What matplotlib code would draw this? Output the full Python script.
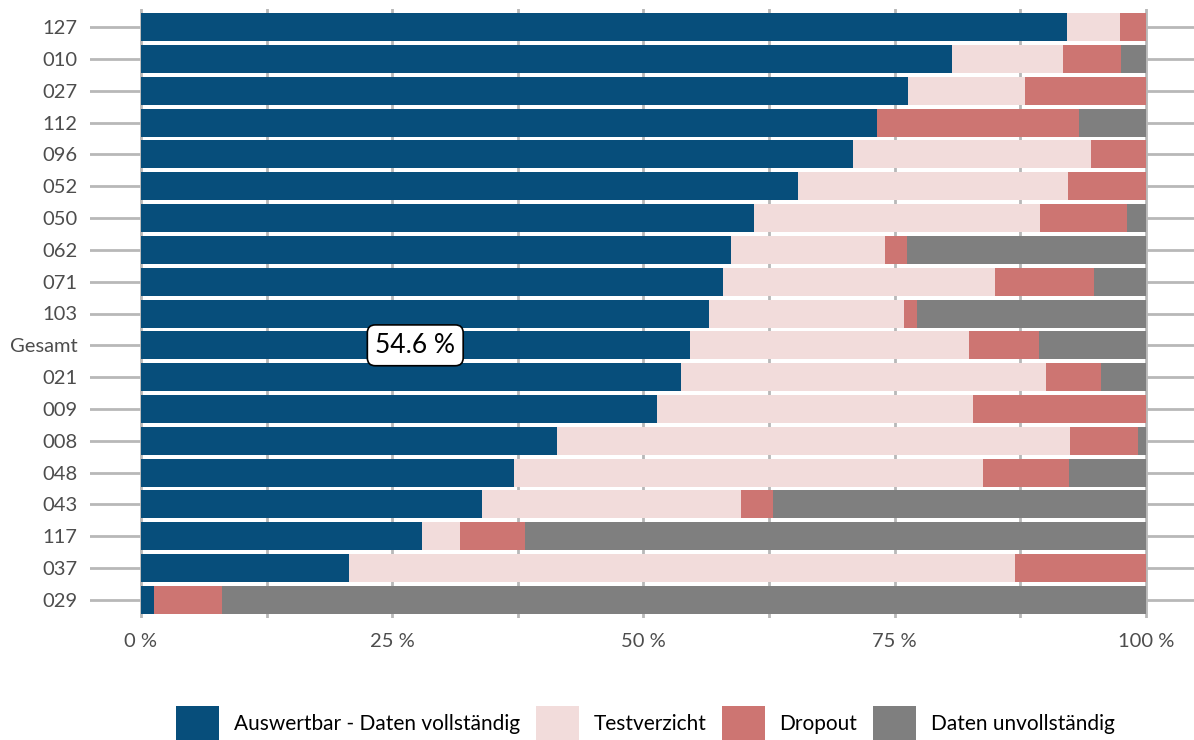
import numpy as np
import matplotlib.pyplot as plt
from matplotlib.patches import Patch

# Daten (von oben nach unten)
labels = ["127", "010", "027", "112", "096", "052", "050", "062", "071", "103",
          "Gesamt", "021", "009", "008", "048", "043", "117", "037", "029"]
auswertbar = [92.2, 80.7, 76.3, 73.3, 70.9, 65.4, 61.0, 58.7, 57.9, 56.5,
              54.6, 53.7, 51.4, 41.4, 37.1, 33.9, 28.0, 20.7, 1.3]
testverzicht = [5.2, 11.1, 11.7, 0.0, 23.6, 26.9, 28.5, 15.3, 27.1, 19.4,
                27.8, 36.4, 31.4, 51.1, 46.7, 25.8, 3.8, 66.3, 0.0]
dropout = [2.6, 5.7, 12.0, 20.1, 5.5, 7.7, 8.6, 2.2, 9.8, 1.3,
           7.0, 5.4, 17.2, 6.7, 8.6, 3.2, 6.4, 13.0, 6.8]
unvollstaendig = [0.0, 2.5, 0.0, 6.6, 0.0, 0.0, 1.9, 23.8, 5.2, 22.8,
                  10.6, 4.5, 0.0, 0.8, 7.6, 37.1, 61.8, 0.0, 91.9]

series = [
    ("Auswertbar - Daten vollständig", auswertbar, "#074e7b"),
    ("Testverzicht", testverzicht, "#f2dcdb"),
    ("Dropout", dropout, "#cd7572"),
    ("Daten unvollständig", unvollstaendig, "#7f7f7f"),
]

plt.rcParams["font.family"] = ["Lato", "DejaVu Sans"]

fig = plt.figure(figsize=(11.94, 7.4), dpi=100)
ax = fig.add_axes([90 / 1194, 122 / 740, 1 - 90 / 1194, 609 / 740])

y = np.arange(len(labels))[::-1]
left = np.zeros(len(labels))
for name, vals, col in series:
    vals = np.array(vals)
    ax.barh(y, vals, left=left, height=0.88, color=col, linewidth=0, zorder=3)
    left += vals

# Beschriftung Gesamt
gi = labels.index("Gesamt")
ax.text(auswertbar[gi] / 2, y[gi], f"{auswertbar[gi]:.1f} %", ha="center", va="center",
        fontsize=19, color="black", zorder=5,
        bbox=dict(boxstyle="round,pad=0.3,rounding_size=0.3", fc="white", ec="black", lw=1.2))

ax.set_xlim(-5.07, 104.8)
ax.set_ylim(-0.57, len(labels) - 0.43)
ax.set_yticks(y)
ax.set_yticklabels(labels)
ax.set_xticks([0, 25, 50, 75, 100])
ax.set_xticklabels(["0 %", "25 %", "50 %", "75 %", "100 %"])
ax.set_xticks([12.5, 37.5, 62.5, 87.5], minor=True)

grid_col = "#b8b8b8"
ax.grid(True, axis="x", which="both", color=grid_col, lw=2, zorder=1)
ax.grid(True, axis="y", color=grid_col, lw=2, zorder=1)
ax.tick_params(axis="both", which="both", length=0, colors="#4d4d4d", labelsize=14.5)
ax.tick_params(axis="x", pad=11)
ax.tick_params(axis="y", pad=9)
for s in ax.spines.values():
    s.set_visible(False)

handles = [Patch(facecolor=c, edgecolor="none", label=n) for n, _, c in series]
fig.legend(handles=handles, loc="center", bbox_to_anchor=(0.5406, 0.023), ncol=4,
           frameon=False, fontsize=15, handlelength=2.07, handleheight=2.1,
           columnspacing=0.75, handletextpad=0.7, borderpad=0)

fig.savefig("out.png", dpi=100)
